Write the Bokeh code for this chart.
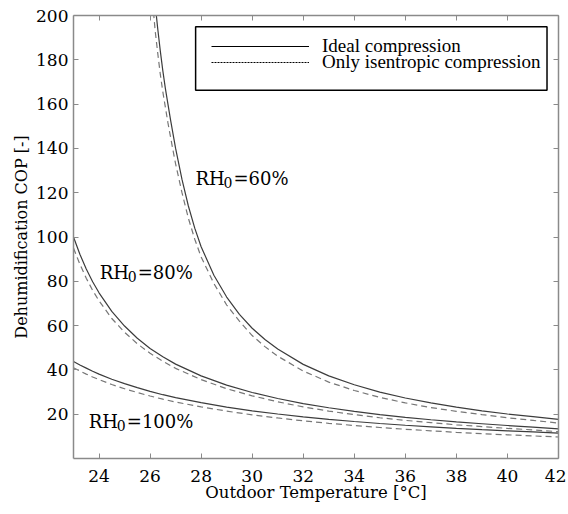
from bokeh.plotting import figure
from bokeh.models import Range1d, FixedTicker, LinearAxis, Legend, LegendItem, Label, BoxAnnotation
from bokeh.embed import file_html
from bokeh.resources import INLINE

# ---- data ----
T60_ideal = [26.2, 26.3, 26.4, 26.5, 26.6, 26.7, 26.8, 27.0, 27.25, 27.5, 27.75, 28.0, 28.5, 29.0, 29.5,
             30, 30.5, 31, 32, 33, 34, 35, 36, 37, 38, 39, 40, 41, 42]
COP60_ideal = [205, 194, 184, 175, 167, 160, 153, 140, 126, 114, 104, 95.6, 82.7, 72.9, 65.1,
               58.8, 53.7, 49.4, 42.5, 37.3, 33.3, 30.0, 27.3, 25.1, 23.2, 21.5, 20.1, 18.9, 17.7]
T60_isen = [26.1, 26.2, 26.3, 26.4, 26.5, 26.6, 26.7, 26.9, 27.0, 27.25, 27.5, 27.75, 28.0, 28.5, 29.0, 29.5,
            30, 30.5, 31, 32, 33, 34, 35, 36, 37, 38, 39, 40, 41, 42]
COP60_isen = [206, 193, 183, 173.5, 165.5, 158.5, 151.5, 139, 133, 120, 108.5, 99, 91, 79, 69.3, 62,
              55.5, 50.5, 46.2, 39.5, 34.5, 30.7, 27.6, 25.1, 23.0, 21.3, 19.8, 18.4, 17.2, 16.0]

T_grid = [23, 23.25, 23.5, 23.75, 24, 24.5, 25, 25.5, 26, 26.5, 27, 28, 29, 30, 31, 32, 33, 34, 35, 36, 37, 38, 39, 40, 41, 42]
COP80_ideal = [100.0, 92.2, 85.6, 79.8, 74.8, 66.4, 59.8, 54.3, 49.7, 45.9, 42.6, 37.3, 33.1, 29.8, 27.1, 24.8,
               22.9, 21.3, 19.8, 18.6, 17.5, 16.5, 15.7, 14.9, 14.2, 13.4]
COP80_isen = [95.0, 87.7, 81.4, 75.9, 71.2, 63.2, 57.0, 51.8, 47.5, 43.9, 40.7, 35.6, 31.5, 28.3, 25.6, 23.3,
              21.4, 19.8, 18.4, 17.2, 16.2, 15.2, 14.4, 13.6, 12.9, 12.1]
COP100_ideal = [43.8, 42.2, 40.8, 39.4, 38.1, 35.8, 33.8, 32.0, 30.3, 28.8, 27.5, 25.2, 23.2, 21.5, 20.1, 18.8,
                17.7, 16.7, 15.8, 15.0, 14.3, 13.6, 13.0, 12.5, 12.0, 11.5]
COP100_isen = [41.0, 39.5, 38.1, 36.8, 35.6, 33.4, 31.5, 29.8, 28.2, 26.8, 25.5, 23.3, 21.4, 19.7, 18.3, 17.0,
               15.9, 14.9, 14.0, 13.2, 12.5, 11.8, 11.2, 10.7, 10.2, 9.7]

x_ticks = [24, 26, 28, 30, 32, 34, 36, 38, 40, 42]
y_ticks = [20, 40, 60, 80, 100, 120, 140, 160, 180, 200]

# RH_0 annotations (data position of the text's left baseline)
rh_rest = ["=60%", "=80%", "=100%"]
rh_label_x = [27.78, 24.03, 23.6]
rh_label_y = [126.5, 83.8, 16.9]

legend_labels = ["Ideal compression", "Only isentropic compression"]

# ---- figure ----
AX = "#8a8a8a"
TICK_FONT = "DejaVu Serif"

p = figure(width=566, height=511, output_backend="svg", toolbar_location=None,
           x_range=Range1d(23, 42), y_range=Range1d(0, 200),
           min_border_left=73, min_border_right=8, min_border_top=15, min_border_bottom=53)
p.grid.visible = False
p.outline_line_color = None
p.background_fill_color = "white"
p.border_fill_color = "white"

def style_axis(ax, show_labels=True):
    ax.axis_line_color = AX
    ax.axis_line_width = 1.5
    ax.major_tick_line_color = AX
    ax.major_tick_in = 5
    ax.major_tick_out = 0
    ax.minor_tick_line_color = None
    ax.major_label_text_font = TICK_FONT
    ax.major_label_text_font_size = "17px"
    ax.major_label_text_color = "black"
    if not show_labels:
        ax.major_label_text_font_size = "1px"
        ax.major_label_text_color = None
        ax.major_label_standoff = 0

p.xaxis.ticker = FixedTicker(ticks=x_ticks)
p.yaxis.ticker = FixedTicker(ticks=y_ticks)
style_axis(p.xaxis[0])
style_axis(p.yaxis[0])
p.xaxis.major_label_standoff = 11
p.yaxis.major_label_standoff = 5
p.xaxis.axis_label = "Outdoor Temperature [\u00b0C]"
p.yaxis.axis_label = "Dehumidification COP [-]"
for ax, fs in ((p.xaxis[0], "16.5px"), (p.yaxis[0], "16px")):
    ax.axis_label_text_font = TICK_FONT
    ax.axis_label_text_font_size = fs
    ax.axis_label_text_font_style = "normal"
    ax.axis_label_text_color = "black"
p.xaxis.axis_label_standoff = -2
p.yaxis.axis_label_standoff = 2

top_ax = LinearAxis(ticker=FixedTicker(ticks=x_ticks))
right_ax = LinearAxis(ticker=FixedTicker(ticks=y_ticks))
style_axis(top_ax, False)
style_axis(right_ax, False)
p.add_layout(top_ax, "above")
p.add_layout(right_ax, "right")

SOLID_C = "#3c3c3c"
DASH_C = "#777777"
p.line(T60_ideal, COP60_ideal, line_color=SOLID_C, line_width=1.2)
p.line(T60_isen, COP60_isen, line_color=DASH_C, line_width=1.2, line_dash="6 4")
p.line(T_grid, COP80_ideal, line_color=SOLID_C, line_width=1.2)
p.line(T_grid, COP80_isen, line_color=DASH_C, line_width=1.2, line_dash="6 4")
p.line(T_grid, COP100_ideal, line_color=SOLID_C, line_width=1.2)
p.line(T_grid, COP100_isen, line_color=DASH_C, line_width=1.2, line_dash="6 4")

for rest, lx, ly in zip(rh_rest, rh_label_x, rh_label_y):
    p.add_layout(Label(x=lx, y=ly, text="RH", text_font=TICK_FONT, text_font_size="18px",
                       text_color="black", text_baseline="alphabetic", text_align="left"))
    p.add_layout(Label(x=lx, y=ly, x_offset=28, y_offset=-4, text="0", text_font=TICK_FONT,
                       text_font_size="14px", text_color="black",
                       text_baseline="alphabetic", text_align="left"))
    p.add_layout(Label(x=lx, y=ly, x_offset=38, text=rest, text_font=TICK_FONT, text_font_size="18px",
                       text_color="black", text_baseline="alphabetic", text_align="left"))

# legend frame (a box) and two one-row legends placed inside it
p.add_layout(BoxAnnotation(left=27.784, right=41.55, bottom=166.3, top=194.9,
                           fill_color="white", fill_alpha=1.0,
                           line_color="black", line_width=1.5, line_alpha=1.0))

nan = float("nan")
r_leg1 = p.line([nan], [nan], line_color="black", line_width=1)
r_leg2 = p.line([nan], [nan], line_color="black", line_width=1, line_dash="2 1")
common = dict(orientation="vertical", label_text_font="Liberation Serif", label_text_font_size="19px",
              label_text_color="black", glyph_width=98, glyph_height=16, label_height=16,
              label_standoff=13, spacing=0, padding=0, margin=0,
              border_line_color=None, background_fill_alpha=0.0)
leg_a = Legend(items=[LegendItem(label=legend_labels[0], renderers=[r_leg1])],
               location=(138, 401), **common)
leg_b = Legend(items=[LegendItem(label=legend_labels[1], renderers=[r_leg2])],
               location=(138, 385), **common)
p.add_layout(leg_a, "center")
p.add_layout(leg_b, "center")

open("out.html", "w").write(file_html(p, INLINE))
